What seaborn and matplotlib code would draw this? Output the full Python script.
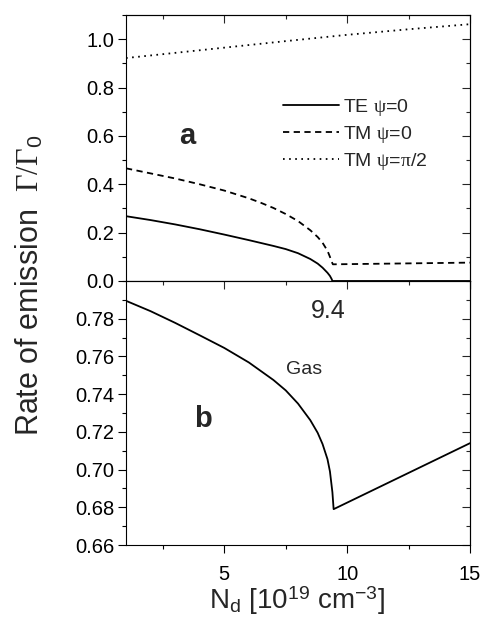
import matplotlib
matplotlib.use("Agg")
import matplotlib.pyplot as plt
import seaborn as sns
import pandas as pd
from matplotlib.ticker import MultipleLocator, FixedLocator, FormatStrFormatter

# ---- data ----
x_te = [1.0, 2.0, 3.0, 4.0, 5.0, 6.0, 7.0, 7.5, 8.0, 8.5, 8.8, 9.0, 9.2, 9.3, 9.37, 9.4, 15.0]
y_te = [0.268, 0.252, 0.234, 0.214, 0.192, 0.169, 0.145, 0.132, 0.115, 0.091, 0.072, 0.055,
        0.034, 0.021, 0.008, 0.0, 0.0]

x_tm0 = [1.0, 2.0, 3.0, 4.0, 5.0, 6.0, 6.5, 7.0, 7.5, 8.0, 8.5, 8.8, 9.0, 9.2, 9.3, 9.37, 9.42, 15.0]
y_tm0 = [0.466, 0.445, 0.424, 0.400, 0.374, 0.342, 0.323, 0.302, 0.277, 0.248, 0.210, 0.182,
         0.158, 0.125, 0.100, 0.080, 0.069, 0.076]

x_tm90 = [1.0, 2.5, 5.0, 7.5, 10.0, 12.5, 15.0]
y_tm90 = [0.922, 0.938, 0.965, 0.992, 1.018, 1.041, 1.062]

x_gas = [1.0, 2.0, 3.0, 4.0, 5.0, 6.0, 7.0, 7.5, 8.0, 8.5, 8.8, 9.0, 9.2, 9.3, 9.4, 9.45, 15.0]
y_gas = [0.7895, 0.7840, 0.7778, 0.7712, 0.7645, 0.7568, 0.7475, 0.7420, 0.7350, 0.7262,
         0.7195, 0.7135, 0.7055, 0.6990, 0.6880, 0.679, 0.714]

ticks_top = [0.0, 0.2, 0.4, 0.6, 0.8, 1.0]
ticks_bot = [0.66, 0.68, 0.70, 0.72, 0.74, 0.76, 0.78]

labels = ["TE $\\mathrm{\\psi}$=0", "TM $\\mathrm{\\psi}$=0", "TM $\\mathrm{\\psi}$=$\\mathrm{\\pi}$/2"]

sns.set_theme(style="ticks")
plt.rcParams["font.family"] = ["Liberation Sans", "DejaVu Sans"]
plt.rcParams["mathtext.fontset"] = "custom"
plt.rcParams["mathtext.rm"] = "Liberation Serif"
plt.rcParams["mathtext.sf"] = "Liberation Sans"
plt.rcParams["mathtext.it"] = "Liberation Serif:italic"
plt.rcParams["lines.scale_dashes"] = False
plt.rcParams["axes.linewidth"] = 0.8

W, H = 485, 625
fig = plt.figure(figsize=(W / 100, H / 100), dpi=100)
L, R = 126 / W, 470 / W
yj = 1 - 281 / H
ax1 = fig.add_axes([L, yj, R - L, (281 - 15) / H])
ax2 = fig.add_axes([L, 1 - 545 / H, R - L, (545 - 281) / H])

df_te = pd.DataFrame({"x": x_te, "y": y_te})
df_tm0 = pd.DataFrame({"x": x_tm0, "y": y_tm0})
df_tm90 = pd.DataFrame({"x": x_tm90, "y": y_tm90})
df_gas = pd.DataFrame({"x": x_gas, "y": y_gas})

lw = 1.3
sns.lineplot(data=df_te, x="x", y="y", ax=ax1, color="black", lw=lw, label=labels[0], sort=False)
sns.lineplot(data=df_tm0, x="x", y="y", ax=ax1, color="black", lw=lw, label=labels[1],
             linestyle=(0, (4.5, 3.2)), sort=False)
sns.lineplot(data=df_tm90, x="x", y="y", ax=ax1, color="black", lw=lw, label=labels[2],
             linestyle=(0, (1.2, 3.2)), sort=False)
sns.lineplot(data=df_gas, x="x", y="y", ax=ax2, color="black", lw=lw, sort=False)

secs = []
for ax in (ax1, ax2):
    ax.set_xlim(1, 15)
    ax.xaxis.set_major_locator(MultipleLocator(5))
    ax.xaxis.set_minor_locator(MultipleLocator(2.5))
    ax.set_xlabel("")
    ax.set_ylabel("")
    for s in ax.spines.values():
        s.set_visible(True)
        s.set_linewidth(0.8)
        s.set_color("black")
    ax.tick_params(which="major", direction="out", length=5.5, width=0.8, labelsize=14.5,
                   colors="black", pad=3)
    ax.tick_params(which="minor", direction="out", length=3.2, width=0.8, colors="black")
    sy = ax.secondary_yaxis("right")
    sx = ax.secondary_xaxis("top")
    sx.xaxis.set_major_locator(MultipleLocator(5))
    sx.xaxis.set_minor_locator(MultipleLocator(2.5))
    for sec in (sy, sx):
        sec.tick_params(which="major", direction="in", length=5.5, width=0.8)
        sec.tick_params(which="minor", direction="in", length=3.2, width=0.8)
        sec.tick_params(labelleft=False, labelright=False, labeltop=False, labelbottom=False)
        for s in sec.spines.values():
            s.set_linewidth(0.8)
    secs.append(sy)

ax1.yaxis.set_major_locator(FixedLocator(ticks_top))
ax1.yaxis.set_minor_locator(MultipleLocator(0.1))
secs[0].yaxis.set_major_locator(FixedLocator(ticks_top))
secs[0].yaxis.set_minor_locator(MultipleLocator(0.1))
ax1.yaxis.set_major_formatter(FormatStrFormatter("%.1f"))
ax1.tick_params(axis="x", labelbottom=False)
ax1.set_ylim(0, 1.1)

ax2.yaxis.set_major_locator(FixedLocator(ticks_bot))
ax2.yaxis.set_minor_locator(MultipleLocator(0.01))
secs[1].yaxis.set_major_locator(FixedLocator(ticks_bot))
secs[1].yaxis.set_minor_locator(MultipleLocator(0.01))
ax2.yaxis.set_major_formatter(FormatStrFormatter("%.2f"))
ax2.tick_params(axis="x", pad=9)
ax2.set_ylim(0.66, 0.80)

leg = ax1.legend(loc="upper left", bbox_to_anchor=(0.455, 0.692), frameon=False, fontsize=14,
                 handlelength=2.9, handletextpad=0.2, labelspacing=0.3, borderpad=0,
                 borderaxespad=0)

ax1.text(3.5, 0.60, "a", fontsize=21, fontweight="bold", ha="center", va="center")
ax2.text(4.12, 0.727, "b", fontsize=21, fontweight="bold", ha="center", va="center")
ax2.text(8.26, 0.753, "Gas", fontsize=14, ha="center", va="center")
ax2.text(9.23, 0.784, "9.4", fontsize=18, ha="center", va="center")

fig.text(30 / W, 1 - 285 / H, "Rate of emission  $\\mathrm{\\Gamma/\\Gamma}_{\\mathsf{0}}$",
         rotation=90, ha="center", va="center", fontsize=22)
fig.text(297 / W, 1 - 601 / H,
         "N$_{\\mathsf{d}}$ [10$^{\\mathsf{19}}$ cm$^{\\mathsf{-3}}$]",
         ha="center", va="center", fontsize=20)

fig.savefig("out.png", dpi=100)
